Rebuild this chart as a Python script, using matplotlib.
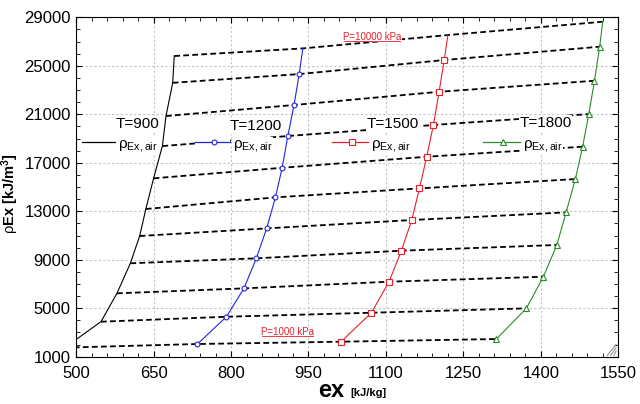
import numpy as np
import matplotlib
matplotlib.use('Agg')
import matplotlib.pyplot as plt
from matplotlib.ticker import MultipleLocator
from matplotlib.lines import Line2D

plt.rcParams['font.family'] = ['Liberation Sans', 'DejaVu Sans']
plt.rcParams['mathtext.fontset'] = 'custom'
plt.rcParams['mathtext.rm'] = 'Liberation Sans'
plt.rcParams['mathtext.bf'] = 'Liberation Sans:bold'
plt.rcParams['mathtext.it'] = 'Liberation Sans:italic'

# exergy ex [kJ/kg] and exergy density rho*ex [kJ/m3] along each isotherm,
# one point per pressure level (1000 kPa at the bottom ... 10000 kPa at top)
ex_900 = [478, 548, 579, 605, 623, 635, 650, 667, 674, 687, 690]
rho_900 = [1750, 3890, 6230, 8710, 10960, 13190, 15720, 18380, 20860, 23600, 25810]

ex_1200 = [735, 791, 825, 849, 869, 886, 899, 910, 922, 932, 939]
rho_1200 = [2050, 4300, 6640, 9120, 11590, 14150, 16590, 19210, 21770, 24320, 26440]

ex_1500 = [1013, 1072, 1106, 1130, 1150, 1165, 1179, 1192, 1203, 1213, 1220]
rho_1500 = [2240, 4630, 7190, 9750, 12280, 14890, 17500, 20120, 22860, 25480, 27540]

ex_1800 = [1314, 1372, 1405, 1431, 1449, 1467, 1481, 1493, 1504, 1514, 1520]
rho_1800 = [2460, 4990, 7600, 10220, 12910, 15660, 18330, 21020, 23770, 26580, 28640]

temps = ['T=900', 'T=1200', 'T=1500', 'T=1800']
colors = ['black', '#2424e0', '#e8202c', '#2a8c2a']
markers = [None, 'o', 's', '^']

xticks = [500, 650, 800, 950, 1100, 1250, 1400, 1550]
yticks = [1000, 5000, 9000, 13000, 17000, 21000, 25000, 29000]

fig = plt.figure(figsize=(6.4, 4.04), dpi=100)
ax = fig.add_axes([0.119, 0.117, 0.847, 0.840])

all_ex = [ex_900, ex_1200, ex_1500, ex_1800]
all_rho = [rho_900, rho_1200, rho_1500, rho_1800]

# isobars (dashed) joining the same pressure on each isotherm
for i in range(len(ex_900)):
    xs = [e[i] for e in all_ex]
    ys = [r[i] for r in all_rho]
    ax.plot(xs, ys, color='black', lw=1.3, dashes=(3.2, 1.8), zorder=2)

# isotherms
for e, r, c, m in zip(all_ex, all_rho, colors, markers):
    ax.plot(e, r, color=c, lw=0.8, zorder=3)
    if m is not None:
        ax.plot(e[:-1], r[:-1], ls='none', marker=m, ms=4.5 if m != 'o' else 3.5,
                mec=c, mfc='white', mew=0.8, zorder=4)

# legend-like labels inside the plot
lab = r'ρ$_{\mathregular{Ex,air}}$'
leg_x = [(511, 576), (730, 798), (996, 1066), (1288, 1360)]
leg_ty = [20190, 20030, 20190, 20270]
leg_tx = [618, 847, 1114, 1409]
for k in range(4):
    x0, x1 = leg_x[k]
    ax.plot([x0, x1], [18720, 18720], color='white', lw=10, solid_capstyle='butt', zorder=5)
    ax.plot([x0, x1], [18720, 18720], color=colors[k], lw=0.9, zorder=6)
    if markers[k] is not None:
        ax.plot([(x0 + x1) / 2 + 3], [18720], ls='none', marker=markers[k],
                ms=4.5 if markers[k] != 'o' else 3.5, mec=colors[k], mfc='white',
                mew=0.8, zorder=7)
    ax.text(x1 + 5, 18400, lab, fontsize=11, ha='left', va='center', color='black',
            bbox=dict(fc='white', ec='none', pad=0.5), zorder=6)
    ax.text(leg_tx[k], leg_ty[k], temps[k], fontsize=11, ha='center', va='center',
            bbox=dict(fc='white', ec='none', pad=0.5), zorder=6)

t_top = ax.text(1073, 27380, 'P=10000 kPa', fontsize=7, color='#e8202c', ha='center',
                va='center', bbox=dict(fc='white', ec='none', pad=0.3), zorder=6)
t_bot = ax.text(909, 3040, 'P=1000 kPa', fontsize=7, color='#e8202c', ha='center',
                va='center', bbox=dict(fc='white', ec='none', pad=0.3), zorder=6)

ax.set_xlim(500, 1550)
ax.set_ylim(1000, 29000)
ax.set_xticks(xticks)
ax.set_yticks(yticks)
ax.xaxis.set_minor_locator(MultipleLocator(30, offset=20))
ax.yaxis.set_minor_locator(MultipleLocator(1000))
ax.tick_params(which='both', direction='in', top=True, right=True, labelsize=12)
ax.tick_params(which='major', length=4)
ax.tick_params(which='minor', length=3)
ax.tick_params(axis='x', pad=7)
ax.tick_params(axis='y', pad=4)
ax.grid(True, which='major', color='#c4c4c4', ls=(0, (2, 2)), lw=0.8)
ax.set_axisbelow(True)

ax.set_ylabel(r'ρ$\mathbf{Ex}$ $\mathbf{[kJ/m^3]}$', fontsize=10.5, va='center')
ax.yaxis.set_label_coords(-0.121, 0.48)
fig.text(318 / 640, 1 - 397 / 404, 'ex', fontsize=17, fontweight='bold', ha='left', va='baseline')
fig.text(350 / 640, 1 - 396 / 404, '[kJ/kg]', fontsize=8, fontweight='bold', ha='left', va='baseline')

# resize grip in the lower right corner
for d in [0.008, 0.014, 0.02]:
    ax.plot([1 - d, 0.996], [0.004, d * 1.6 + 0.004], transform=ax.transAxes,
            color='#909090', lw=0.8, clip_on=False, zorder=8)

# underline the two pressure labels
fig.canvas.draw()
r = fig.canvas.get_renderer()
for t in [t_top, t_bot]:
    bb = t.get_window_extent(renderer=r)
    y = (bb.y0 + 1) / fig.bbox.height
    fig.add_artist(Line2D([(bb.x0 + 1) / fig.bbox.width, (bb.x1 - 1) / fig.bbox.width], [y, y],
                          color='#e8202c', lw=0.6, zorder=9))

fig.savefig('out.png', dpi=100)
